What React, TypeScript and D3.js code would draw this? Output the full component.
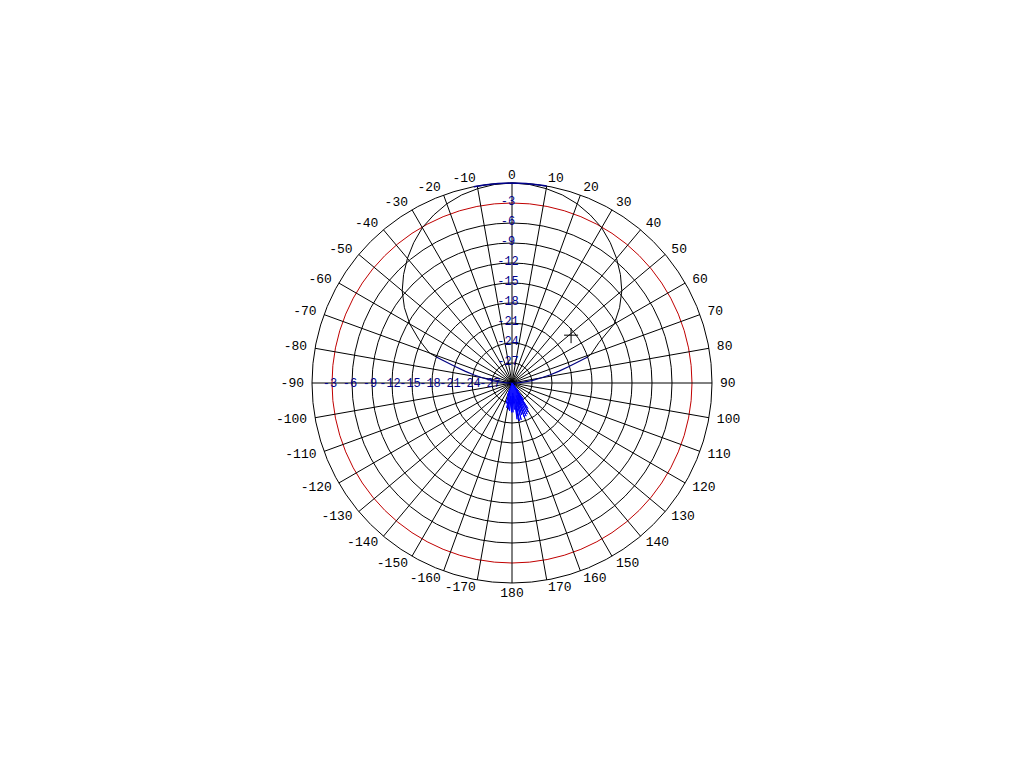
import * as d3 from "d3";

// dB rings (every 3 dB, 0 dB at the rim, -30 dB at the centre)
const DB_TICKS = [-27, -24, -21, -18, -15, -12, -9, -6, -3];
const DB_LABELS = ["-27", "-24", "-21", "-18", "-15", "-12", "-9", "-6", "-3"];
const REF_LEVEL = -3;

// angle labels, clockwise from the top
const ANGLE_TICKS = [
  0, 10, 20, 30, 40, 50, 60, 70, 80, 90, 100, 110, 120, 130, 140, 150, 160, 170, 180,
  -170, -160, -150, -140, -130, -120, -110, -100, -90, -80, -70, -60, -50, -40, -30, -20, -10,
];

// black pattern (main lobe)
const MAIN_ANGLES = [-71, -70, -65, -60, -55, -50, -45, -40, -35, -30, -25, -20, -15, -10, -5, 0,
  5, 10, 15, 20, 25, 30, 35, 40, 45, 50, 55, 60, 65, 70, 71];
const MAIN_DB = [-18.0, -16.8, -14.6, -12.3, -10.3, -8.5, -7.0, -5.6, -4.3, -3.1, -2.2, -1.4, -0.8, -0.4, -0.1, 0,
  -0.1, -0.4, -0.8, -1.4, -2.2, -3.1, -4.3, -5.6, -7.0, -8.5, -10.3, -12.3, -15.6, -17.4, -18.0];

// blue measured trace
const TOP_ANGLES = [-11, -8, -4, 0, 4, 8, 10];
const TOP_DB = [0, 0, 0, 0, 0, 0, 0];
const LEFT_ANGLES = [-71, -72, -74, -76, -78, -80, -83, -86, -88, -90];
const LEFT_DB = [-18.0, -19.3, -21.2, -22.8, -24.2, -25.5, -27.0, -28.3, -29.2, -30];
const RIGHT_ANGLES = [71, 72, 74, 76, 78, 80, 83, 86, 88, 90];
const RIGHT_DB = [-18.0, -19.3, -21.2, -22.8, -24.2, -25.5, -27.0, -28.3, -29.2, -30];

// back-lobe noise
const BACK_ANGLES = [140, 142, 143, 145, 146, 148, 149, 151, 152, 154, 155, 157, 158, 160, 161, 163, 164,
  166, 167, 169, 170, 172, 173, 175, 176, 178, 179, 181, 183, 185, 186, 188, 190, 192, 194, 196, 198, 200, 203];
const BACK_DB = [-30, -28.5, -30, -27, -29.5, -25.5, -29, -25, -28.5, -24.8, -28, -24.6, -27.5, -24.5, -28, -25, -27,
  -24.3, -27.5, -24.2, -26.5, -24.5, -28, -26, -28.5, -25.6, -28, -25.6, -27.5, -25.8, -28, -26, -27.5, -26.2, -28.5, -26.8, -29, -28, -30];

// cursor marker
const MARKER_ANGLE = 51;
const MARKER_DB = -18.6;

const CX = 512;
const CY = 383;
const R = 200;

const rad = (deg: number) => (deg * Math.PI) / 180;

export default function App() {
  const r = d3.scaleLinear().domain([-30, 0]).range([0, R]).clamp(true);
  const pt = (deg: number, db: number): [number, number] => [
    CX + r(db) * Math.sin(rad(deg)),
    CY - r(db) * Math.cos(rad(deg)),
  ];

  const line = d3
    .lineRadial<[number, number]>()
    .angle((d) => rad(d[0]))
    .radius((d) => r(d[1]));

  const zip = (a: number[], b: number[]) => a.map((v, i) => [v, b[i]] as [number, number]);

  const spokes = d3.range(0, 360, 10);
  const mono = "'Liberation Mono', 'DejaVu Sans Mono', monospace";
  const [mx, my] = pt(MARKER_ANGLE, MARKER_DB);

  return (
    <svg width={1024} height={768} style={{ position: "absolute", left: 0, top: 0, background: "#fff" }}>
      {/* rings */}
      {DB_TICKS.map((v) => (
        <circle key={v} cx={CX} cy={CY} r={r(v)} fill="none"
          stroke={v === REF_LEVEL ? "#c00000" : "#000"} strokeWidth={1} />
      ))}
      <circle cx={CX} cy={CY} r={r(0)} fill="none" stroke="#000" strokeWidth={1} />

      {/* spokes */}
      {spokes.map((a) => {
        const [x, y] = pt(a, 0);
        return <line key={a} x1={CX} y1={CY} x2={x} y2={y} stroke="#000" strokeWidth={1} />;
      })}

      {/* angle labels */}
      {ANGLE_TICKS.map((a) => {
        const rr = r(0) + 8;
        const x = CX + rr * Math.sin(rad(a));
        const y = CY - rr * Math.cos(rad(a));
        const anchor = a === 0 || a === 180 ? "middle" : a > 0 ? "start" : "end";
        return (
          <text key={a} x={x} y={y + (a === 180 ? 2 : 0)} textAnchor={anchor} dominantBaseline="central"
            fontFamily={mono} fontSize={13} fill="#000">
            {a}
          </text>
        );
      })}

      {/* patterns */}
      <g transform={`translate(${CX},${CY})`}>
        <path d={line(zip(MAIN_ANGLES, MAIN_DB)) ?? ""} fill="none" stroke="#000" strokeWidth={1} />
        <path d={line(zip(TOP_ANGLES, TOP_DB)) ?? ""} fill="none" stroke="#00008b" strokeWidth={1.5} />
        <path d={line(zip(LEFT_ANGLES, LEFT_DB)) ?? ""} fill="none" stroke="#000080" strokeWidth={1.2} />
        <path d={line(zip(RIGHT_ANGLES, RIGHT_DB)) ?? ""} fill="none" stroke="#000080" strokeWidth={1.2} />
        <path d={(line(zip(BACK_ANGLES, BACK_DB)) ?? "") + "L0,0Z"} fill="#1414ff" stroke="#0000ff" strokeWidth={1} />
      </g>

      {/* dB labels, vertical axis */}
      {DB_TICKS.map((v, i) => (
        <text key={`v${v}`} x={CX - 4} y={CY - r(v) - 1} textAnchor="middle" dominantBaseline="central"
          fontFamily={mono} fontSize={12} fill="#00008b">
          {DB_LABELS[i]}
        </text>
      ))}
      {/* dB labels, horizontal axis */}
      {DB_TICKS.map((v, i) => (
        <text key={`h${v}`} x={CX - r(v) - 2} y={CY + 1} textAnchor="middle" dominantBaseline="central"
          fontFamily={mono} fontSize={12} fill="#00008b">
          {DB_LABELS[i]}
        </text>
      ))}

      {/* cursor */}
      <line x1={mx - 7} y1={my} x2={mx + 7} y2={my} stroke="#000" strokeWidth={1} />
      <line x1={mx} y1={my - 7} x2={mx} y2={my + 8} stroke="#000" strokeWidth={1} />
    </svg>
  );
}
